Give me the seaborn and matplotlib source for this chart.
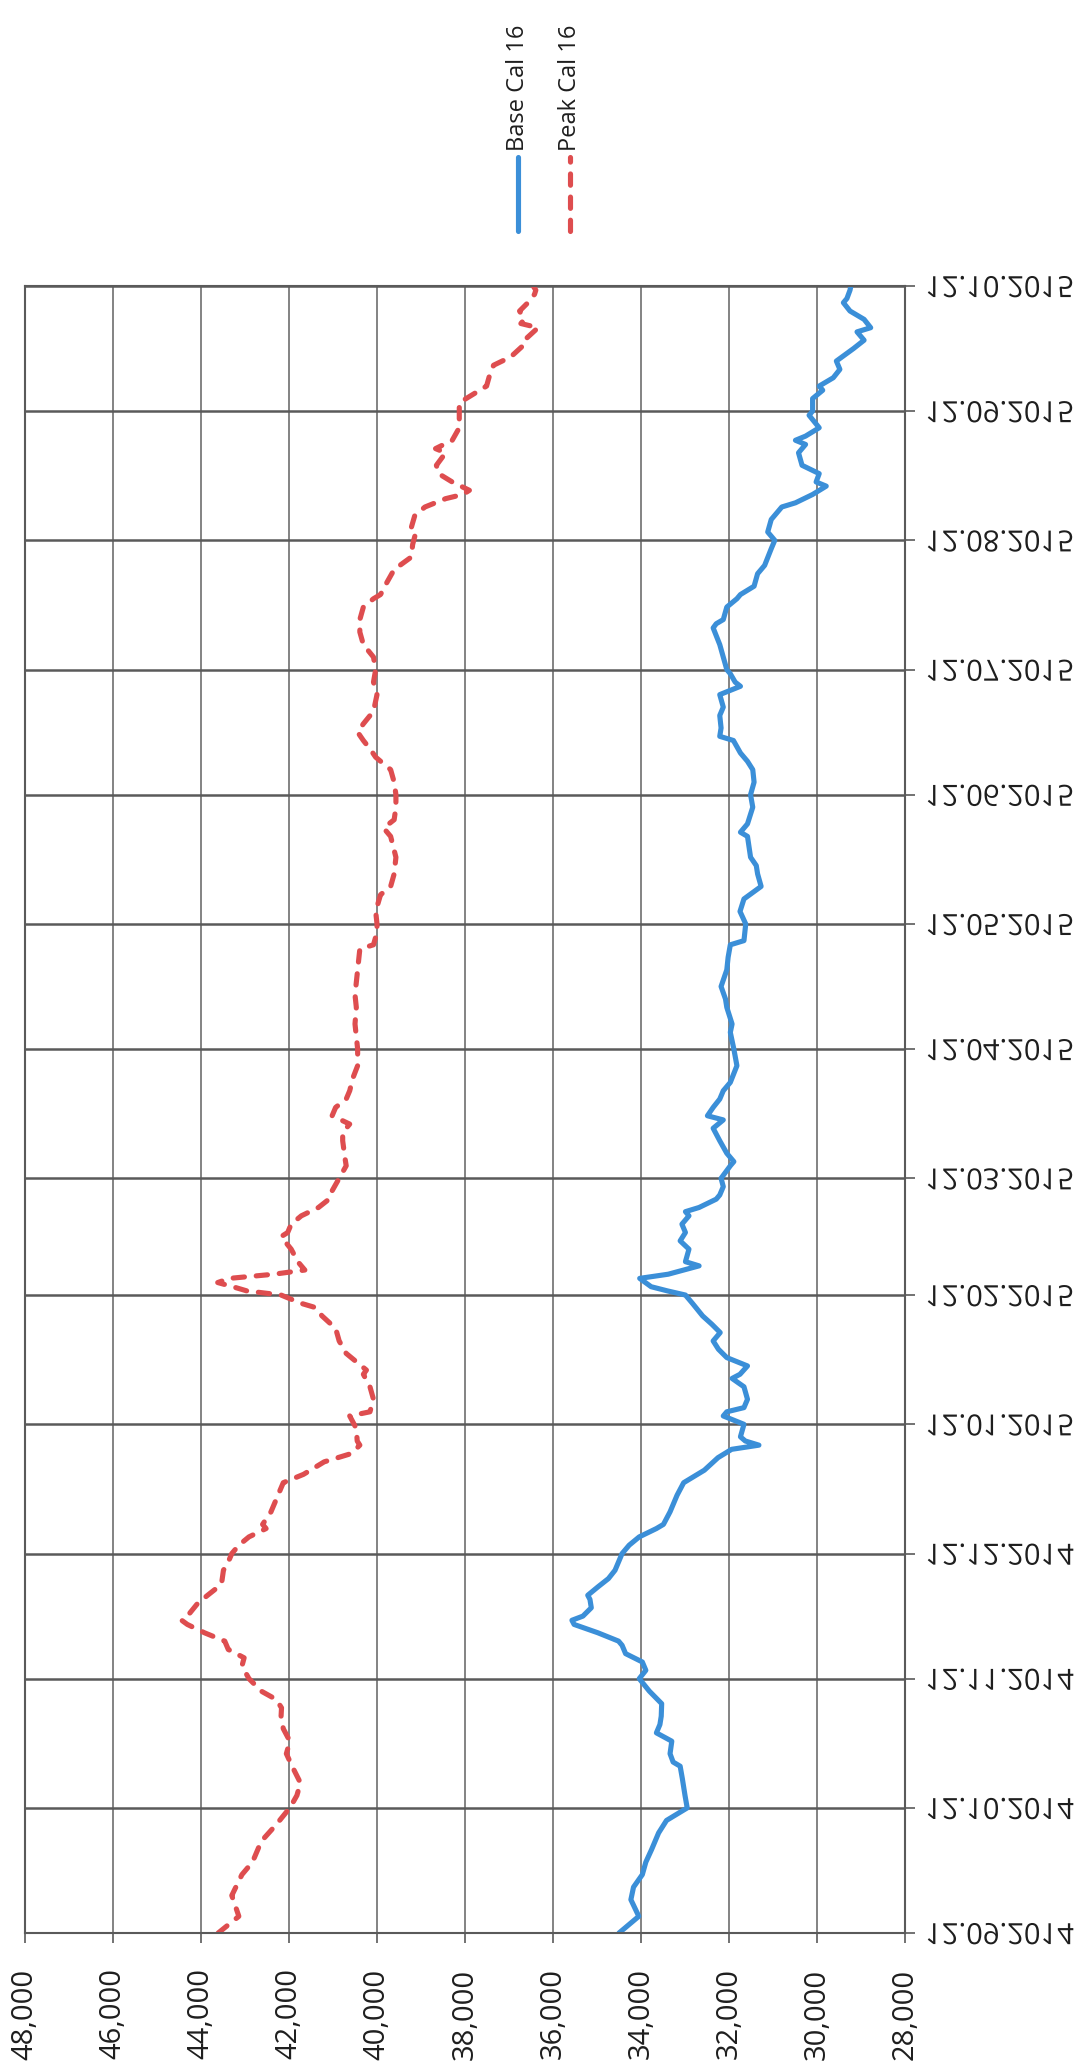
import matplotlib
matplotlib.use("Agg")
import matplotlib.pyplot as plt
from matplotlib.lines import Line2D
from matplotlib.patheffects import AbstractPathEffect
from matplotlib.transforms import Affine2D
import pandas as pd
import seaborn as sns

# Daten (Tage ab 12.09.2014)
start_date = "2014-09-12"

base_day = [0, 4, 8, 11, 14, 17, 20, 24, 27, 30, 33, 37, 40, 41, 43, 46, 48, 50, 52, 55,
            58, 61, 63, 65, 67, 69, 70, 72, 74, 75, 76, 78, 80, 81, 83, 85, 87, 89, 91, 93,
            95, 97, 98, 101, 105, 108, 111, 114, 116, 117, 118, 119, 122, 124, 125, 126, 128, 131, 133, 134,
            136, 138, 140, 142, 144, 146, 148, 151, 153, 154, 155, 157, 158, 160, 161, 164, 166, 168, 170, 172,
            173, 174, 176, 177, 179, 181, 184, 185, 187, 190, 193, 195, 196, 198, 200, 202, 204, 208, 212, 216,
            218, 222, 224, 227, 231, 234, 237, 238, 242, 245, 248, 251, 254, 256, 258, 263, 264, 266, 270, 273,
            276, 279, 281, 283, 286, 287, 289, 292, 294, 297, 299, 300, 302, 303, 306, 309, 313, 314, 315, 318,
            320, 321, 323, 326, 328, 332, 334, 336, 339, 341, 342, 343, 345, 347, 348, 350, 352, 355, 357, 358,
            359, 361, 364, 365, 368, 370, 371, 373, 375, 377, 380, 382, 384, 385, 387, 389, 391, 392, 394, 395]
base_value = [34500, 34050, 34230, 34170, 33970, 33890, 33760, 33600, 33420, 32950, 33000, 33060, 33110, 33270, 33340, 33300, 33650, 33570, 33540, 33530,
              33810, 34040, 33890, 33970, 34350, 34430, 34510, 34980, 35520, 35570, 35320, 35130, 35160, 35210, 34980, 34740, 34590, 34510, 34430, 34270,
              34040, 33650, 33490, 33340, 33180, 33030, 32560, 32250, 31940, 31320, 31630, 31740, 31660, 32130, 32050, 31660, 31580, 31660, 31930, 31750,
              31580, 32050, 32240, 32360, 32200, 32390, 32600, 32830, 32990, 33400, 33770, 34030, 33380, 32680, 32990, 32910, 33110, 32990, 33070, 32910,
              32990, 32680, 32290, 32210, 32130, 32180, 31970, 31890, 32050, 32210, 32360, 32130, 32490, 32360, 32210, 32130, 31970, 31820, 31890, 31970,
              31930, 32050, 32080, 32180, 32050, 32020, 31970, 31660, 31620, 31750, 31660, 31270, 31350, 31380, 31510, 31580, 31740, 31580, 31460, 31510,
              31430, 31460, 31580, 31740, 31900, 32210, 32180, 32210, 32130, 32210, 31740, 31860, 31970, 32050, 32130, 32210, 32360, 32290, 32130, 32050,
              31820, 31740, 31430, 31350, 31190, 31040, 30960, 31120, 31040, 30880, 30800, 30490, 30100, 29790, 30020, 29950, 30340, 30420, 30260, 30490,
              30260, 29950, 30180, 30100, 30100, 29870, 29950, 29630, 29480, 29560, 29170, 28930, 29090, 28780, 28930, 29250, 29400, 29320, 29250, 29230]

peak_day = [0, 4, 9, 14, 17, 22, 26, 29, 30, 33, 36, 40, 43, 46, 49, 52, 54, 56, 58, 61,
            64, 66, 68, 70, 72, 74, 75, 76, 79, 81, 83, 84, 87, 89, 91, 93, 95, 97, 98, 101,
            104, 108, 110, 113, 115, 117, 118, 121, 124, 125, 128, 131, 134, 135, 137, 139, 142, 145, 148, 150,
            151, 153, 154, 155, 156, 157, 158, 159, 161, 164, 167, 168, 170, 172, 174, 176, 178, 181, 184, 186,
            190, 192, 194, 196, 198, 200, 202, 205, 208, 212, 215, 218, 222, 225, 228, 231, 236, 237, 240, 242,
            245, 249, 251, 254, 258, 263, 265, 267, 270, 273, 276, 279, 282, 284, 286, 288, 290, 293, 297, 300,
            303, 306, 309, 312, 315, 318, 320, 321, 324, 327, 330, 333, 335, 336, 340, 342, 344, 345, 346, 348,
            350, 352, 355, 356, 358, 361, 365, 367, 369, 371, 374, 376, 378, 381, 382, 385, 386, 387, 389, 391,
            393, 394, 395]
peak_value = [43610, 43140, 43300, 43070, 42830, 42630, 42290, 42060, 41980, 41820, 41740, 41930, 42060, 41980, 42130, 42180, 42170, 42290, 42630, 42910,
              43070, 43020, 43380, 43460, 43920, 44310, 44440, 44310, 44080, 43850, 43610, 43530, 43490, 43380, 43300, 43140, 42910, 42520, 42600, 42410,
              42290, 42130, 41670, 41200, 40580, 40390, 40450, 40470, 40620, 40160, 40080, 40160, 40310, 40240, 40470, 40700, 40860, 40940, 41250, 41400,
              41720, 42180, 42960, 43280, 43620, 43350, 42340, 41640, 41800, 41950, 42180, 42030, 41950, 41720, 41330, 41090, 41020, 40860, 40700, 40730,
              40780, 40780, 40620, 41020, 40940, 40700, 40620, 40550, 40440, 40440, 40470, 40500, 40470, 40500, 40470, 40440, 40390, 40080, 40000, 40000,
              40030, 39920, 39690, 39610, 39570, 39690, 39850, 39610, 39570, 39570, 39610, 39690, 40030, 40160, 40310, 40440, 40310, 40080, 40000, 40080,
              40030, 40080, 40310, 40390, 40390, 40310, 40080, 39920, 39770, 39610, 39220, 39190, 39140, 39250, 39140, 38910, 38440, 38050, 37900, 38290,
              38600, 38650, 38440, 38670, 38290, 38130, 38130, 38130, 37820, 37510, 37430, 37350, 36960, 36650, 36650, 36340, 36730, 36650, 36760, 36570,
              36420, 36390, 36450]

series_names = ["Base Cal 16", "Peak Cal 16"]
series_colors = ["#3b8fd8", "#de4d4f"]

date_labels = ["12.09.2014", "12.10.2014", "12.11.2014", "12.12.2014", "12.01.2015", "12.02.2015", "12.03.2015",
               "12.04.2015", "12.05.2015", "12.06.2015", "12.07.2015", "12.08.2015", "12.09.2015", "12.10.2015"]
value_ticks = [48000, 46000, 44000, 42000, 40000, 38000, 36000, 34000, 32000, 30000, 28000]


# gespiegelte Beschriftung (wie im Scan)
class VFlip(AbstractPathEffect):
    def draw_path(self, renderer, gc, tpath, affine, rgbFace=None):
        bb = tpath.get_extents(affine)
        cy = (bb.y0 + bb.y1) / 2
        flip = affine + Affine2D().translate(0, -cy).scale(1, -1).translate(0, cy)
        renderer.draw_path(gc, tpath, flip, rgbFace)


t0 = pd.Timestamp(start_date)
df = pd.concat([
    pd.DataFrame({"date": t0 + pd.to_timedelta(base_day, unit="D"), "value": base_value, "series": series_names[0]}),
    pd.DataFrame({"date": t0 + pd.to_timedelta(peak_day, unit="D"), "value": peak_value, "series": series_names[1]}),
], ignore_index=True)

sns.set_style("white")
plt.rcParams["font.family"] = ["Open Sans", "DejaVu Sans"]

W, H = 1075, 2066
fig = plt.figure(figsize=(W / 100, H / 100), dpi=100)
ax = fig.add_axes([25 / W, 1 - 1933 / H, 880 / W, (1933 - 286) / H])

grid_col = "#5a5a5a"
lw = 3.7
sns.lineplot(data=df, x="value", y="date", hue="series", style="series",
             palette=dict(zip(series_names, series_colors)),
             dashes={series_names[0]: "", series_names[1]: (2.2, 2.3)},
             orient="y", estimator=None, linewidth=lw, legend=False, ax=ax)
for ln in ax.lines:
    ln.set_dash_capstyle("round")
    ln.set_solid_capstyle("round")
    ln.set_solid_joinstyle("round")

tick_dates = pd.to_datetime(date_labels, format="%d.%m.%Y")
ax.set_xlim(value_ticks[0], value_ticks[-1])
ax.set_ylim(tick_dates[0], tick_dates[-1])
ax.set_xticks(value_ticks)
ax.set_xticklabels([f"{v:,}" for v in value_ticks], rotation=90, fontsize=21, color="#1e1e1e")
ax.yaxis.tick_right()
ax.set_yticks(tick_dates)
ax.set_yticklabels(date_labels, fontsize=21, color="#1e1e1e")
for lab in ax.get_yticklabels():
    lab.set_path_effects([VFlip()])
ax.set_xlabel("")
ax.set_ylabel("")

ax.grid(True, axis="x", color="#6e6e6e", linewidth=1.2)
ax.grid(True, axis="y", color=grid_col, linewidth=1.8)
for sp in ax.spines.values():
    sp.set_visible(True)
    sp.set_color(grid_col)
    sp.set_linewidth(1.5)
ax.tick_params(axis="x", bottom=True, length=7.5, width=1.2, color=grid_col, pad=18)
ax.tick_params(axis="y", right=True, left=False, length=7.5, width=1.2, color=grid_col, pad=7)

# Legende (gedreht)
leg_x = [518, 570]
for name, col, lx in zip(series_names, series_colors, leg_x):
    ls = "-" if name == series_names[0] else (0, (2.2, 2.3))
    key = Line2D([lx / W, lx / W], [1 - 231 / H, 1 - 157 / H], transform=fig.transFigure,
                 color=col, linewidth=lw, linestyle=ls, dash_capstyle="round", solid_capstyle="round")
    fig.add_artist(key)
    fig.text(lx / W, 1 - 88 / H, name, rotation=90, ha="center", va="center", fontsize=17, color="#1e1e1e")

fig.savefig("out.png", dpi=100, facecolor="white")
